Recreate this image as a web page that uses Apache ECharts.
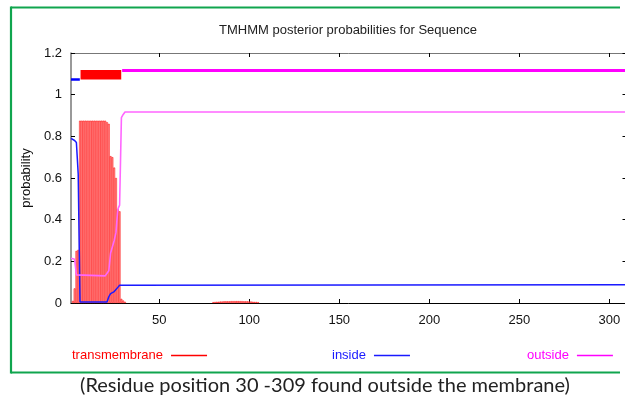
<!DOCTYPE html>
<html>
<head>
<meta charset="utf-8">
<script src="https://cdn.jsdelivr.net/npm/echarts@6/dist/echarts.min.js"></script>
<style>
  html, body { margin: 0; padding: 0; background: #fff; overflow: hidden; }
  #chart { width: 625px; height: 398px; }
</style>
</head>
<body>
<div id="chart"></div>
<script>
// posterior probability of transmembrane, drawn as impulses
const tmResidue = [2, 3, 4, 5, 6, 7, 8, 9, 10, 11, 12, 13, 14, 15, 16, 17, 18, 19, 20,
  21, 22, 23, 24, 25, 26, 27, 28, 29, 30, 31,
  80, 81, 82, 83, 84, 85, 86, 87, 88, 89, 90, 91, 92, 93, 94, 95, 96, 97, 98, 99,
  100, 101, 102, 103, 104, 105];
const tmProb = [0.01, 0.07, 0.25, 0.255, 0.875, 0.875, 0.875, 0.875, 0.875, 0.875, 0.875, 0.875,
  0.875, 0.875, 0.875, 0.875, 0.875, 0.875, 0.875,
  0.868, 0.86, 0.705, 0.70, 0.65, 0.60, 0.45, 0.44, 0.02, 0.012, 0.006,
  0.004, 0.005, 0.006, 0.006, 0.007, 0.007, 0.008, 0.008, 0.008, 0.008, 0.009, 0.009, 0.009,
  0.009, 0.009, 0.009, 0.009, 0.008, 0.008, 0.008, 0.007, 0.007, 0.006, 0.005, 0.005, 0.004];

// inside / outside curves (break points only, flat between them)
const insideResidue = [1, 2, 3, 4, 5, 6, 21, 22, 23, 24, 25, 26, 27, 28, 29, 309];
const insideProb = [0.79, 0.785, 0.78, 0.77, 0.62, 0.005, 0.005, 0.03, 0.045, 0.05, 0.055,
  0.062, 0.075, 0.085, 0.088, 0.088];
const outsideResidue = [1, 2, 3, 4, 5, 20, 21, 22, 23, 24, 25, 26, 27, 28, 29, 30, 31, 309];
const outsideProb = [0.215, 0.215, 0.21, 0.135, 0.13, 0.13, 0.135, 0.155, 0.24, 0.27, 0.30,
  0.34, 0.45, 0.47, 0.89, 0.905, 0.917, 0.917];

// predicted topology bars at the top: inside, TM helix, outside
const topoFrom = [1, 6.3, 29.4];
const topoTo = [5.9, 28.9, 309];
const topoLevel = [1.073, 1.096, 1.116];

const xTicks = [50, 100, 150, 200, 250, 300];
const seqLength = 309;

const FONT = '"Liberation Sans", Arial, Helvetica, sans-serif';
const RED = '#ff0000';
const BLUE = '#1a1aff';
const MAGENTA = '#ff00ff';
const FRAME = '#10a54e';

function pairs(xs, ys) {
  return xs.map((x, i) => [x, ys[i]]);
}

function topoSeg(i) {
  return [[topoFrom[i], topoLevel[i]], [topoTo[i], topoLevel[i]]];
}

function frameLine(x1, y1, x2, y2) {
  return {
    type: 'line',
    shape: { x1: x1, y1: y1, x2: x2, y2: y2 },
    style: { stroke: FRAME, lineWidth: 2.2 },
    silent: true
  };
}

const chart = echarts.init(document.getElementById('chart'), null, { renderer: 'canvas' });

const legendBase = {
  orient: 'horizontal',
  align: 'right',
  icon: 'rect',
  itemWidth: 36,
  itemHeight: 1.5,
  padding: 0,
  top: 349,
  selectedMode: false,
  textStyle: { fontFamily: FONT, fontSize: 13, padding: [0, 3, 0, 0] }
};

function legendItem(name, color) {
  return {
    name: name,
    itemStyle: { color: color, borderWidth: 0 },
    textStyle: { color: color, padding: [0, 3, 0, 0] }
  };
}

chart.setOption({
  animation: false,
  backgroundColor: '#fff',
  title: {
    text: 'TMHMM posterior probabilities for Sequence',
    left: 219,
    top: 24,
    padding: 0,
    textStyle: { fontFamily: FONT, fontSize: 13, fontWeight: 'normal', color: '#222' }
  },
  legend: [
    Object.assign({}, legendBase, { left: 72, data: [legendItem('transmembrane', RED)] }),
    Object.assign({}, legendBase, { left: 332, data: [legendItem('inside', BLUE)] }),
    Object.assign({}, legendBase, { left: 527, data: [legendItem('outside', MAGENTA)] })
  ],
  grid: {
    left: 71,
    top: 53,
    width: 554.5,
    height: 250,
    containLabel: false,
    outerBoundsMode: 'none'
  },
  xAxis: [
    {
      type: 'value',
      position: 'bottom',
      min: 1,
      max: seqLength,
      axisLine: { show: true, onZero: false, lineStyle: { color: '#000', width: 1 } },
      axisTick: { show: true, inside: true, length: 4, customValues: xTicks, lineStyle: { color: '#000' } },
      axisLabel: { customValues: xTicks, margin: 11, fontFamily: FONT, fontSize: 13, color: '#111' },
      splitLine: { show: false }
    },
    {
      type: 'value',
      position: 'top',
      min: 1,
      max: seqLength,
      axisLine: { show: true, onZero: false, lineStyle: { color: '#777', width: 1 } },
      axisTick: { show: true, inside: true, length: 4, customValues: xTicks, lineStyle: { color: '#000' } },
      axisLabel: { show: false },
      splitLine: { show: false }
    }
  ],
  yAxis: [
    {
      type: 'value',
      position: 'left',
      min: 0,
      max: 1.2,
      interval: 0.2,
      name: 'probability',
      nameLocation: 'middle',
      nameGap: 38,
      nameTextStyle: { fontFamily: FONT, fontSize: 13, color: '#111' },
      axisLine: { show: true, lineStyle: { color: '#777', width: 1.5 } },
      axisTick: { show: true, inside: true, length: 4, lineStyle: { color: '#000' } },
      axisLabel: { margin: 9, fontFamily: FONT, fontSize: 13, color: '#111' },
      splitLine: { show: false }
    },
    {
      type: 'value',
      position: 'right',
      min: 0,
      max: 1.2,
      interval: 0.2,
      axisLine: { show: false },
      axisTick: { show: true, inside: true, length: 3, lineStyle: { color: '#000' } },
      axisLabel: { show: false },
      splitLine: { show: false }
    }
  ],
  series: [
    {
      name: 'transmembrane',
      type: 'bar',
      xAxisIndex: 0,
      yAxisIndex: 0,
      barWidth: 1.8,
      data: pairs(tmResidue, tmProb),
      itemStyle: { color: '#ff9a9a', borderColor: RED, borderWidth: 0.5 },
      z: 1
    },
    {
      name: 'inside',
      type: 'line',
      data: pairs(insideResidue, insideProb),
      showSymbol: false,
      lineStyle: { color: BLUE, width: 1.5 },
      itemStyle: { color: BLUE },
      z: 3
    },
    {
      name: 'outside',
      type: 'line',
      data: pairs(outsideResidue, outsideProb),
      showSymbol: false,
      lineStyle: { color: '#ff66ff', width: 1.6 },
      itemStyle: { color: MAGENTA },
      z: 3
    },
    {
      name: 'inside-topology',
      type: 'line',
      data: topoSeg(0),
      showSymbol: false,
      lineStyle: { color: '#0000ff', width: 2.5, cap: 'butt' },
      z: 4
    },
    {
      name: 'tm-topology',
      type: 'line',
      data: topoSeg(1),
      showSymbol: false,
      lineStyle: { color: RED, width: 9.5, cap: 'butt' },
      z: 4
    },
    {
      name: 'outside-topology',
      type: 'line',
      data: topoSeg(2),
      showSymbol: false,
      lineStyle: { color: MAGENTA, width: 3, cap: 'butt' },
      z: 4
    }
  ],
  graphic: [
    frameLine(11, 7.5, 620, 7.5),
    frameLine(11, 6.4, 11, 373.6),
    frameLine(11, 372.5, 620, 372.5),
    {
      type: 'text',
      x: 325,
      y: 386,
      style: {
        text: '(Residue position 30 -309 found outside the membrane)',
        font: '20px Lato, "Open Sans", sans-serif',
        fill: '#222',
        align: 'center',
        verticalAlign: 'middle'
      }
    }
  ]
});
</script>
</body>
</html>
